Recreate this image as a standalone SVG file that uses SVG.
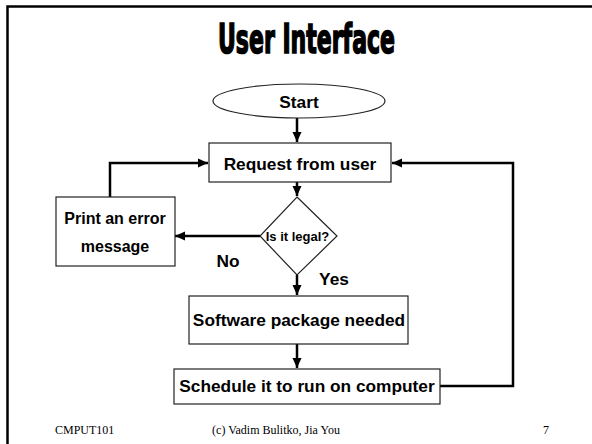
<svg xmlns="http://www.w3.org/2000/svg" width="592" height="444" viewBox="0 0 592 444">
  <defs>
    <marker id="arrow" markerUnits="userSpaceOnUse" markerWidth="11" markerHeight="10" refX="10" refY="5" orient="auto">
      <path d="M0,0.5 L10,5 L0,9.5 z" fill="#000"/>
    </marker>
    <style>
      .box { fill: #fff; stroke: #222; stroke-width: 1.2; }
      .lbl { font-family: "Liberation Sans", Arial, sans-serif; font-weight: bold; fill: #000; text-anchor: middle; }
      .wire { fill: none; stroke: #000; stroke-width: 2.5; }
      .foot { font-family: "Liberation Serif", "Times New Roman", serif; font-size: 12px; fill: #000; }
    </style>
  </defs>

  <rect width="592" height="444" fill="#fff"/>

  <!-- slide frame -->
  <path d="M7.5,444 V6.5 H592" fill="none" stroke="#000" stroke-width="2.5"/>

  <!-- title -->
  <text x="218" y="53" font-family="'Liberation Sans Narrow', 'DejaVu Sans Condensed', sans-serif" font-weight="bold" font-size="40" textLength="177" lengthAdjust="spacingAndGlyphs" stroke="#000" stroke-width="1.6" fill="#000">User Interface</text>

  <!-- connectors -->
  <g id="connectors">
    <path class="wire" d="M297,118 V142" marker-end="url(#arrow)"/>
    <path class="wire" d="M297,182 V196" marker-end="url(#arrow)"/>
    <path class="wire" d="M260,236 H175" marker-end="url(#arrow)"/>
    <path class="wire" d="M110,197 V163 H208" marker-end="url(#arrow)"/>
    <path class="wire" d="M297,275 V295" marker-end="url(#arrow)"/>
    <path class="wire" d="M297,344 V368" marker-end="url(#arrow)"/>
    <path class="wire" d="M440,386 H513 V163 H392" marker-end="url(#arrow)"/>
  </g>

  <g id="start">
    <ellipse class="box" cx="299" cy="101" rx="86" ry="17"/>
    <text class="lbl" x="299" y="107.5" font-size="17.3">Start</text>
  </g>

  <g id="request">
    <rect class="box" x="209" y="143" width="182" height="39"/>
    <text class="lbl" x="300" y="169.5" font-size="17.3">Request from user</text>
  </g>

  <g id="legal">
    <polygon class="box" points="297,197 337,236 297,275 260,236"/>
    <text class="lbl" x="297.5" y="241" font-size="13">Is it legal?</text>
  </g>

  <g id="error">
    <rect class="box" x="56" y="197" width="119" height="69"/>
    <text class="lbl" x="115" y="224" font-size="16">Print an error</text>
    <text class="lbl" x="115" y="252" font-size="16">message</text>
  </g>

  <g id="package">
    <rect class="box" x="189" y="296" width="219" height="48"/>
    <text class="lbl" x="299" y="326" font-size="17.3">Software package needed</text>
  </g>

  <g id="schedule">
    <rect class="box" x="174" y="369" width="266" height="35"/>
    <text class="lbl" x="307" y="392" font-size="17.3">Schedule it to run on computer</text>
  </g>

  <!-- branch labels -->
  <text class="lbl" x="228" y="267" font-size="17.3">No</text>
  <text class="lbl" x="334" y="285" font-size="17.3">Yes</text>

  <!-- footer -->
  <text class="foot" x="55" y="434">CMPUT101</text>
  <text class="foot" x="276" y="434" text-anchor="middle">(c) Vadim Bulitko, Jia You</text>
  <text class="foot" x="543" y="434">7</text>
</svg>
